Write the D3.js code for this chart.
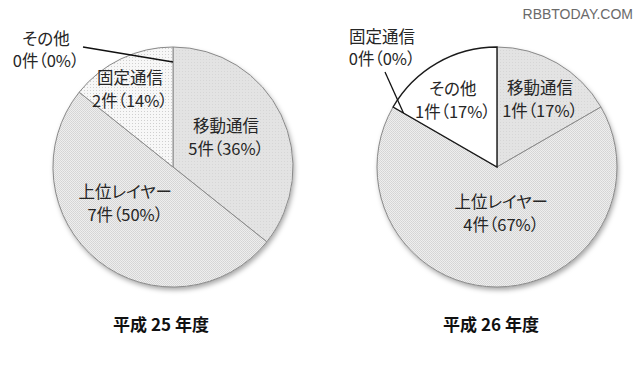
<!DOCTYPE html>
<html><head><meta charset="utf-8">
<script src="https://cdn.jsdelivr.net/npm/d3@7"></script>
<style>
html,body{margin:0;padding:0;background:#fff;}
svg{display:block;}
text{font-family:"Noto Sans CJK JP","Noto Sans",sans-serif;font-feature-settings:"palt";}
</style></head>
<body>
<svg id="c" width="640" height="373"></svg>
<script>
// ---- data ----
const categories = ["移動通信", "上位レイヤー", "固定通信", "その他"];
const countsH25 = [5, 7, 2, 0];
const countsH26 = [1, 4, 0, 1];
const yearTitles = ["平成 25 年度", "平成 26 年度"];
const watermark = "RBBTODAY.COM";

// ---- layout (not data) ----
const R = 120;
const pies = [
  {values: countsH25, title: yearTitles[0], cx: 173, cy: 167, tx: 161,
   label: [{r: 60, da: -2}, {r: 61, da: 13}, {r: 87, da: -4}],
   outside: {x: 46, y: 52, lx: 83, ly: 47, rr: 105}},
  {values: countsH26, title: yearTitles[1], cx: 497, cy: 167, tx: 491,
   label: [{r: 79, da: 3}, {r: 48, da: -5}, null, {r: 79, da: -4}],
   outside: {x: 382, y: 50, lx: 385, ly: 72, rr: 108}}
];

const svg = d3.select("#c");
const defs = svg.append("defs");

// patterns
const p1 = defs.append("pattern").attr("id","pMobile").attr("width",3).attr("height",3).attr("patternUnits","userSpaceOnUse");
p1.append("rect").attr("width",3).attr("height",3).attr("fill","#e3e3e3");
p1.append("rect").attr("x",0).attr("y",0).attr("width",1).attr("height",1).attr("fill","#d6d6d6");
const p2 = defs.append("pattern").attr("id","pUpper").attr("width",2).attr("height",2).attr("patternUnits","userSpaceOnUse");
p2.append("rect").attr("width",2).attr("height",2).attr("fill","#eeeeee");
p2.append("rect").attr("x",0).attr("y",0).attr("width",1).attr("height",1).attr("fill","#d4d4d4");
p2.append("rect").attr("x",1).attr("y",1).attr("width",1).attr("height",1).attr("fill","#d8d8d8");
const p3 = defs.append("pattern").attr("id","pFixed").attr("width",3).attr("height",3).attr("patternUnits","userSpaceOnUse");
p3.append("rect").attr("width",3).attr("height",3).attr("fill","#f7f7f7");
p3.append("rect").attr("x",1).attr("y",1).attr("width",1).attr("height",1).attr("fill","#cfcfcf");

const fills = d3.scaleOrdinal().domain(categories)
  .range(["url(#pMobile)", "url(#pUpper)", "url(#pFixed)", "#ffffff"]);
const strokes = d3.scaleOrdinal().domain(categories)
  .range(["#8a8a8a", "#8a8a8a", "#8a8a8a", "#1a1a1a"]);

const f = defs.append("filter").attr("id","shadow").attr("x","-20%").attr("y","-20%").attr("width","140%").attr("height","140%");
f.append("feDropShadow").attr("dx",1.5).attr("dy",3).attr("stdDeviation",2.5).attr("flood-color","#000").attr("flood-opacity",0.35);

const pie = d3.pie().sort(null).value(d => d.v).startAngle(0).endAngle(2*Math.PI);
const arc = d3.arc().innerRadius(0).outerRadius(R);

pies.forEach(P => {
  const g = svg.append("g").attr("transform", `translate(${P.cx},${P.cy})`);
  const data = categories.map((c,i) => ({c, v: P.values[i]}));
  const total = d3.sum(P.values);
  const arcs = pie(data);

  // shadow base
  g.append("circle").attr("r", R).attr("fill", "#ddd").attr("filter", "url(#shadow)");

  const order = arcs.slice().sort((a,b) => (a.data.c === "その他") - (b.data.c === "その他"));
  g.selectAll("path.slice").data(order.filter(d => d.data.v > 0)).join("path")
    .attr("class","slice")
    .attr("d", arc)
    .attr("fill", d => fills(d.data.c))
    .attr("stroke", d => strokes(d.data.c))
    .attr("stroke-width", d => d.data.c === "その他" ? 1.4 : 1)
    .attr("stroke-linejoin","miter");

  const fmt = d => `${d.data.v}件（${Math.round(d.data.v/total*100)}%）`;

  arcs.forEach((d,i) => {
    const lp = P.label[i];
    if (d.data.v > 0 && lp) {
      const a = (d.startAngle + d.endAngle)/2 + lp.da*Math.PI/180;
      const x = lp.r*Math.sin(a), y = -lp.r*Math.cos(a);
      const t = g.append("text").attr("text-anchor","middle").attr("font-size",16.5).attr("fill","#262626");
      t.append("tspan").attr("x",x).attr("y",y-11.5).attr("dominant-baseline","middle").text(d.data.c);
      t.append("tspan").attr("x",x).attr("y",y+11.5).attr("dominant-baseline","middle").text(fmt(d));
    } else if (d.data.v === 0) {
      const O = P.outside;
      const ex = O.rr*Math.sin(d.startAngle), ey = -O.rr*Math.cos(d.startAngle);
      svg.append("line")
        .attr("x1", O.lx).attr("y1", O.ly)
        .attr("x2", P.cx + ex).attr("y2", P.cy + ey)
        .attr("stroke","#111").attr("stroke-width",1.3);
      const t = svg.append("text").attr("text-anchor","middle").attr("font-size",16.5).attr("fill","#262626");
      t.append("tspan").attr("x",O.x).attr("y",O.y-11).attr("dominant-baseline","middle").text(d.data.c);
      t.append("tspan").attr("x",O.x).attr("y",O.y+11).attr("dominant-baseline","middle").text(fmt(d));
    }
  });

  svg.append("text").attr("x", P.tx).attr("y", 326).attr("text-anchor","middle")
    .attr("dominant-baseline","middle").attr("font-size",17).attr("font-weight","bold").attr("fill","#111")
    .text(P.title);
});

svg.append("text").attr("x", 633).attr("y", 15).attr("text-anchor","end")
  .attr("dominant-baseline","middle")
  .style("font-family","'Liberation Sans',Arial,sans-serif").attr("font-size",14)
  .attr("fill","#6a6a6a").text(watermark);
</script>
</body></html>
